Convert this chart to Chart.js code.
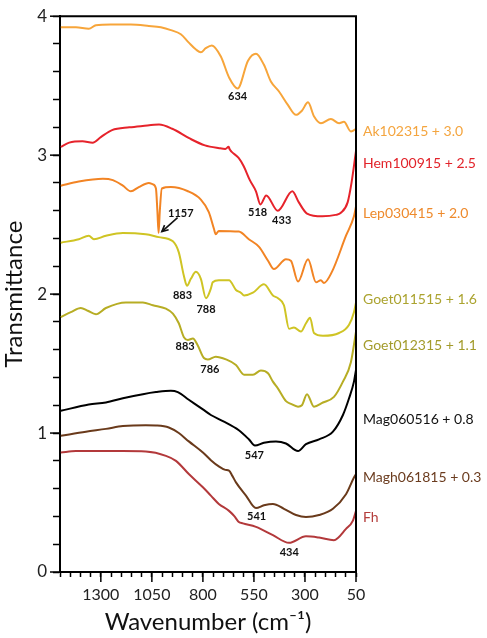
<!DOCTYPE html>
<html><head><meta charset="utf-8">
<script src="https://cdn.jsdelivr.net/npm/chart.js@4.4.1/dist/chart.umd.min.js"></script>
<style>html,body{margin:0;padding:0;background:#fff}#wrap{width:487px;height:638px;position:relative}</style>
</head><body><div id="wrap"><canvas id="c" width="487" height="638"></canvas></div>
<script>
// ---------- data ----------
const xTickLabels = [1300, 1050, 800, 550, 300, 50];
const yTickLabels = [0, 1, 2, 3, 4];
const seriesNames = ['Ak102315 + 3.0','Hem100915 + 2.5','Lep030415 + 2.0','Goet011515 + 1.6','Goet012315 + 1.1','Mag060516 + 0.8','Magh061815 + 0.3','Fh'];
const lineColors = ['#F7A53A','#E6232B','#F28424','#CFC424','#B7AD24','#000000','#6A3A1B','#B3393B'];
const textColors = ['#F4A53F','#E2232A','#EE8A2C','#ABA32F','#A39B2B','#111111','#6B3C1F','#B43D3C'];
const labelT = [3.17, 2.94, 2.58, 1.96, 1.63, 1.10, 0.68, 0.39];

const akWn = [1496,1422,1359,1324,1251,1153,1065,1006,957,908,869,834,810,786,756,712,672,630,579,540,501,467,428,383,344,315,285,256,222,173,133,109,75,60,50];
const akT  = [3.92,3.92,3.91,3.935,3.94,3.94,3.93,3.92,3.90,3.87,3.81,3.76,3.74,3.77,3.79,3.71,3.56,3.48,3.68,3.73,3.65,3.53,3.46,3.36,3.29,3.32,3.38,3.28,3.23,3.26,3.23,3.24,3.17,3.18,3.19];

const hemWn = [1496,1455,1390,1340,1300,1245,1160,1095,1015,950,865,790,720,690,674,668,660,625,600,570,540,518,490,433,362,330,290,215,150,124,91,72,50];
const hemT  = [3.06,3.09,3.10,3.09,3.13,3.18,3.20,3.21,3.22,3.19,3.12,3.07,3.05,3.045,3.06,3.04,3.025,2.98,2.92,2.82,2.74,2.645,2.71,2.60,2.74,2.66,2.58,2.56,2.57,2.585,2.66,2.80,3.03];

const lepWn = [1496,1408,1290,1241,1192,1153,1114,1065,1045,1030,1023,1017,1011,1001,957,873,810,771,746,737,722,624,575,525,481,452,393,369,334,285,246,222,207,168,99,60,50];
const lepT  = [2.78,2.81,2.83,2.82,2.78,2.74,2.77,2.80,2.79,2.76,2.60,2.44,2.60,2.76,2.77,2.74,2.68,2.59,2.47,2.43,2.455,2.45,2.395,2.34,2.24,2.18,2.25,2.24,2.09,2.25,2.085,2.10,2.08,2.16,2.42,2.56,2.63];

const goet1Wn = [1496,1408,1359,1334,1275,1192,1080,1016,947,918,893,878,859,834,810,785,761,752,722,672,638,614,598,555,501,457,432,403,378,354,320,295,275,256,212,133,84,60,50];
const goet1T  = [2.37,2.395,2.42,2.395,2.42,2.44,2.43,2.41,2.38,2.30,2.13,2.06,2.11,2.16,2.11,1.97,2.04,2.085,2.10,2.10,2.03,2.01,1.99,2.01,2.07,1.99,1.97,1.92,1.75,1.76,1.73,1.79,1.83,1.72,1.70,1.72,1.78,1.87,1.94];

const goet2Wn = [1496,1447,1398,1364,1324,1275,1177,1094,1045,981,947,918,893,874,849,825,795,776,737,687,638,598,555,516,481,457,432,393,369,334,315,290,256,212,158,114,75,50];
const goet2T  = [1.835,1.87,1.90,1.88,1.855,1.90,1.94,1.94,1.92,1.895,1.86,1.79,1.69,1.67,1.68,1.63,1.54,1.53,1.55,1.53,1.49,1.42,1.42,1.45,1.43,1.37,1.32,1.23,1.21,1.19,1.20,1.28,1.19,1.22,1.26,1.37,1.51,1.73];

const magWn = [1496,1359,1275,1192,1094,1030,957,923,869,800,761,702,624,575,545,501,442,393,334,295,231,163,114,84,60,50];
const magT  = [1.16,1.205,1.22,1.25,1.28,1.295,1.305,1.295,1.24,1.17,1.13,1.086,1.02,0.955,0.91,0.93,0.94,0.925,0.87,0.92,0.955,1.01,1.13,1.25,1.37,1.455];

const maghWn = [1496,1373,1275,1192,1080,1030,967,918,869,800,761,722,690,672,655,638,589,540,501,457,403,344,295,231,163,99,60,50];
const maghT  = [0.98,1.01,1.03,1.05,1.057,1.055,1.04,1.00,0.94,0.86,0.805,0.76,0.735,0.73,0.69,0.645,0.55,0.46,0.48,0.49,0.455,0.41,0.395,0.41,0.455,0.56,0.68,0.705];

const fhWn = [1496,1422,1192,1080,981,932,869,800,761,722,672,645,624,604,540,457,378,295,231,158,99,65,50];
const fhT  = [0.86,0.87,0.87,0.867,0.836,0.80,0.705,0.61,0.55,0.49,0.44,0.40,0.36,0.35,0.325,0.265,0.21,0.257,0.248,0.229,0.31,0.37,0.44];

const annoText = ['634','518','433','1157','883','788','883','786','547','541','434'];
const annoWn   = [630,532,414,908,900,785,887,766,548,537,377];
const annoT    = [3.42,2.59,2.53,2.58,1.99,1.89,1.62,1.46,0.84,0.40,0.138];
const arrowFrom = [924, 2.55];
const arrowTo   = [1001, 2.45];

// ---------- chart ----------
const FONT = 'Lato, "Open Sans", "DejaVu Sans", sans-serif';
const allWn = [akWn, hemWn, lepWn, goet1Wn, goet2Wn, magWn, maghWn, fhWn];
const allT  = [akT, hemT, lepT, goet1T, goet2T, magT, maghT, fhT];

const datasets = seriesNames.map((name, i) => ({
  label: name,
  data: allWn[i].map((w, k) => ({ x: w, y: allT[i][k] })),
  showLine: true,
  borderColor: lineColors[i],
  borderWidth: 2,
  pointRadius: 0,
  cubicInterpolationMode: 'monotone',
  fill: false
}));

const xMinorTicks = []; for (let v = 50; v <= 1500; v += 50) xMinorTicks.push(v);
const yMinorTicks = []; for (let i = 0; i <= 20; i++) yMinorTicks.push(Math.round(i * 2) / 10);

const decorPlugin = {
  id: 'decor',
  afterDraw(chart) {
    const ctx = chart.ctx, a = chart.chartArea;
    const xs = chart.scales.x, ys = chart.scales.y;
    ctx.save();
    // frame (top & right)
    ctx.strokeStyle = '#000'; ctx.lineWidth = 2;
    ctx.beginPath();
    ctx.moveTo(a.left - 1, a.top); ctx.lineTo(a.right, a.top); ctx.lineTo(a.right, a.bottom);
    ctx.stroke();
    // longer major ticks
    ctx.lineWidth = 1.5;
    xTickLabels.forEach(v => {
      const px = xs.getPixelForValue(v);
      ctx.beginPath(); ctx.moveTo(px, a.bottom); ctx.lineTo(px, a.bottom + 10); ctx.stroke();
    });
    yTickLabels.forEach(v => {
      const py = ys.getPixelForValue(v);
      ctx.beginPath(); ctx.moveTo(a.left, py); ctx.lineTo(a.left - 10, py); ctx.stroke();
    });
    // peak annotations
    ctx.fillStyle = '#111';
    ctx.font = 'bold 11px ' + FONT;
    ctx.textAlign = 'center'; ctx.textBaseline = 'middle';
    annoText.forEach((t, i) => {
      ctx.fillText(t, xs.getPixelForValue(annoWn[i]), ys.getPixelForValue(annoT[i]));
    });
    // arrow
    const x1 = xs.getPixelForValue(arrowFrom[0]), y1 = ys.getPixelForValue(arrowFrom[1]);
    const x2 = xs.getPixelForValue(arrowTo[0]), y2 = ys.getPixelForValue(arrowTo[1]);
    ctx.strokeStyle = '#111'; ctx.lineWidth = 1.6;
    ctx.beginPath(); ctx.moveTo(x1, y1); ctx.lineTo(x2, y2); ctx.stroke();
    const ang = Math.atan2(y2 - y1, x2 - x1), L = 7;
    ctx.beginPath();
    ctx.moveTo(x2 - L * Math.cos(ang - 0.45), y2 - L * Math.sin(ang - 0.45));
    ctx.lineTo(x2, y2);
    ctx.lineTo(x2 - L * Math.cos(ang + 0.45), y2 - L * Math.sin(ang + 0.45));
    ctx.stroke();
    // series labels on the right
    ctx.font = '14px ' + FONT;
    ctx.textAlign = 'left'; ctx.textBaseline = 'middle';
    seriesNames.forEach((n, i) => {
      ctx.fillStyle = textColors[i];
      ctx.fillText(n, a.right + 7, ys.getPixelForValue(labelT[i]));
    });
    ctx.restore();
  }
};

new Chart(document.getElementById('c'), {
  type: 'scatter',
  data: { datasets },
  options: {
    responsive: false,
    devicePixelRatio: 1,
    animation: false,
    layout: { padding: { left: 0, right: 131, top: 12, bottom: 0 } },
    plugins: { legend: { display: false }, tooltip: { enabled: false } },
    scales: {
      x: {
        type: 'linear', min: 50, max: 1500, reverse: true,
        afterBuildTicks: s => { s.ticks = xMinorTicks.map(v => ({ value: v })); },
        afterFit: s => { s.height = 66; },
        ticks: {
          autoSkip: false, maxRotation: 0, padding: 8, color: '#222',
          font: { family: FONT, size: 16 },
          callback: v => xTickLabels.includes(v) ? String(v) : ''
        },
        grid: { drawOnChartArea: false, drawTicks: true, tickLength: 5, tickColor: '#000', tickWidth: 1.5 },
        border: { display: true, color: '#000', width: 2 },
        title: { display: true, text: 'Wavenumber (cm\u207B\u00B9)', color: '#111', font: { family: FONT, size: 24 }, padding: { top: 0, bottom: 1 } }
      },
      y: {
        type: 'linear', min: 0, max: 4,
        afterBuildTicks: s => { s.ticks = yMinorTicks.map(v => ({ value: v })); },
        afterFit: s => { s.width = 60; },
        ticks: {
          autoSkip: false, padding: 6, color: '#222',
          font: { family: FONT, size: 17 },
          callback: v => yTickLabels.includes(Math.round(v * 10) / 10) ? String(Math.round(v)) : ''
        },
        grid: { drawOnChartArea: false, drawTicks: true, tickLength: 7, tickColor: '#000', tickWidth: 1.5 },
        border: { display: true, color: '#000', width: 2 },
        title: { display: true, text: 'Transmittance', color: '#111', font: { family: FONT, size: 24 }, padding: 0 }
      }
    }
  },
  plugins: [decorPlugin]
});
</script>
</body></html>
